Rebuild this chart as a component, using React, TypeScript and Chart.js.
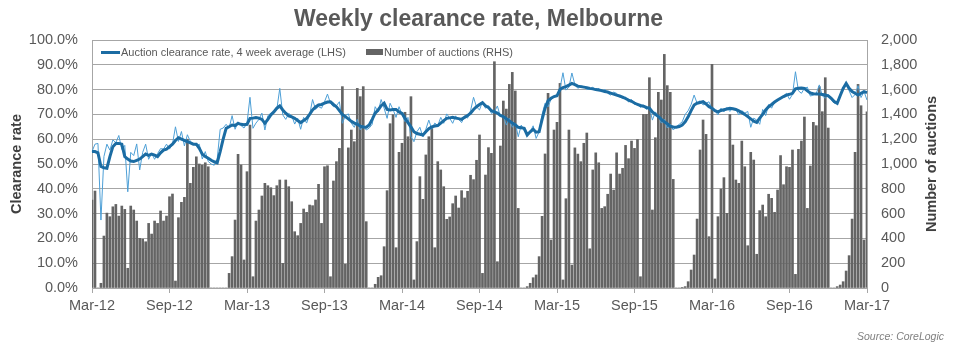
import React, { useEffect, useRef } from 'react';
import { Chart, registerables } from 'chart.js';

Chart.register(...registerables);

// Tick labels shown every 26 weeks on the category axis
const TICK_LABELS = ['Mar-12', 'Sep-12', 'Mar-13', 'Sep-13', 'Mar-14', 'Sep-14', 'Mar-15', 'Sep-15', 'Mar-16', 'Sep-16', 'Mar-17'];
const LEFT_TICKS_MAX = 100;
const RIGHT_TICKS_MAX = 2000;

// Number of auctions (RHS), weekly
const AUCTIONS = [
  709, 782, 0, 38, 419, 604, 575, 655, 674, 580, 661, 634, 159, 661, 629, 540, 400, 394, 373, 521,
  435, 540, 521, 621, 540, 580, 736, 758, 56, 567, 691, 731, 1200, 844, 973, 1058, 1000, 991, 1010, 978,
  0, 0, 0, 0, 0, 0, 118, 253, 548, 1078, 992, 226, 938, 1314, 91, 540, 629, 742, 844, 825,
  809, 745, 825, 871, 199, 871, 817, 696, 454, 422, 521, 637, 610, 669, 664, 710, 836, 521, 978, 986,
  91, 863, 1019, 1126, 1624, 191, 1130, 1274, 1180, 1610, 1543, 1624, 535, 0, 0, 30, 86, 99, 333, 785,
  1325, 1398, 325, 1094, 1167, 1417, 1220, 1543, 65, 374, 898, 715, 1073, 1220, 1288, 325, 1019, 952, 817, 554,
  573, 680, 742, 645, 785, 726, 780, 909, 874, 1030, 1234, 118, 911, 1132, 1086, 1825, 212, 1145, 1508, 1443,
  1642, 1739, 1589, 642, 0, 0, 11, 38, 83, 105, 253, 578, 1081, 1570, 387, 1274, 1336, 1650, 65, 720,
  1274, 185, 1130, 1080, 1019, 1167, 1250, 316, 952, 1090, 1010, 642, 656, 756, 919, 790, 1090, 919, 965, 1150,
  1043, 1185, 1126, 1198, 91, 1400, 1400, 1696, 629, 1212, 1578, 1516, 1884, 1632, 1578, 876, 0, 0, 5, 11,
  51, 145, 266, 556, 1113, 1355, 1239, 414, 1804, 73, 575, 798, 890, 602, 1400, 1153, 871, 844, 1185, 978,
  341, 1094, 1032, 272, 624, 669, 575, 756, 723, 610, 790, 1068, 833, 978, 973, 1113, 110, 1118, 1185, 1379,
  642, 984, 1336, 1309, 1624, 1422, 1696, 1290, 0, 0, 11, 24, 51, 137, 261, 556, 1094, 1642, 1470, 387,
  1421,
];

// Weekly clearance rate (%), thin line
const WEEKLY_RATE = [
  55.0, 58.0, 58.3, 27.4, 53.0, 58.0, 55.6, 59.7, 58.6, 61.5, 55.9, 57.5, 38.8, 54.7, 53.4, 58.1, 47.6, 54.7, 58.0, 51.9,
  54.3, 51.9, 54.2, 56.2, 56.0, 58.0, 56.0, 58.0, 65.0, 59.1, 63.1, 57.3, 61.8, 59.1, 58.2, 57.4, 58.0, 52.0, 55.0, 51.0,
  50.0, 49.5, 52.0, 64.0, 64.5, 66.0, 64.5, 69.5, 64.0, 67.0, 65.5, 64.5, 66.5, 76.9, 64.4, 66.5, 68.0, 70.5, 63.7, 69.5,
  70.5, 71.0, 72.0, 80.5, 69.8, 68.0, 70.4, 69.5, 66.1, 68.5, 64.0, 68.8, 66.5, 69.8, 76.0, 72.0, 73.1, 72.5, 75.1, 78.2,
  74.5, 73.1, 73.5, 75.1, 66.4, 69.5, 70.2, 66.5, 64.8, 68.0, 63.7, 65.5, 63.7, 64.5, 66.0, 73.1, 71.0, 76.0, 72.5, 68.4,
  74.5, 72.0, 68.8, 73.1, 70.0, 67.1, 68.8, 61.0, 59.0, 63.0, 64.8, 61.0, 64.0, 67.7, 64.0, 66.5, 65.5, 68.8, 66.4, 70.2,
  68.5, 66.4, 69.4, 68.0, 66.7, 69.4, 68.5, 71.5, 76.9, 73.0, 71.8, 75.1, 72.5, 73.5, 70.4, 71.0, 73.4, 69.1, 69.5, 65.7,
  68.4, 64.8, 66.5, 61.0, 65.7, 63.5, 61.7, 63.0, 65.4, 60.3, 63.0, 70.0, 74.5, 73.0, 76.1, 77.4, 77.6, 80.5, 86.8, 79.8,
  81.0, 86.7, 82.0, 80.5, 81.5, 81.2, 80.0, 80.2, 81.0, 79.8, 80.5, 79.0, 80.2, 78.5, 77.8, 79.0, 78.5, 77.0, 76.5, 77.0,
  75.0, 76.0, 74.0, 74.5, 72.8, 73.8, 72.0, 73.0, 67.7, 71.0, 69.5, 66.5, 68.0, 64.5, 66.0, 63.7, 65.0, 66.0, 67.0, 70.0,
  71.5, 74.0, 77.8, 74.5, 75.5, 73.8, 74.5, 75.1, 72.0, 71.5, 69.8, 72.5, 71.0, 72.8, 71.2, 72.5, 72.0, 69.8, 71.5, 70.5,
  71.2, 64.8, 68.5, 67.7, 66.0, 72.0, 69.5, 74.0, 72.5, 75.1, 75.5, 76.8, 77.5, 78.5, 76.1, 78.0, 87.2, 79.5, 78.5, 80.5,
  81.0, 77.4, 77.8, 78.5, 81.9, 77.5, 76.5, 78.0, 76.0, 74.5, 75.0, 78.0, 81.0, 82.5, 79.5, 76.8, 78.0, 81.6, 76.8, 79.2,
  75.8,
];

// Auction clearance rate, 4 week average (%), thick line
const AVG_RATE = [
  55.0, 55.0, 54.5, 49.0, 48.5, 48.3, 53.0, 57.0, 58.3, 58.3, 58.0, 53.0, 52.0, 51.2, 51.0, 51.5, 52.0, 53.0, 54.0, 53.5,
  54.0, 53.6, 53.0, 54.5, 55.6, 56.0, 57.0, 58.0, 59.5, 60.6, 60.0, 59.5, 59.0, 58.5, 58.0, 58.0, 56.3, 54.0, 53.0, 52.3,
  51.5, 50.9, 50.5, 55.0, 60.0, 64.4, 65.0, 65.7, 65.5, 66.4, 66.0, 65.8, 66.0, 68.4, 68.5, 68.7, 68.5, 68.0, 66.4, 68.0,
  69.8, 71.0, 72.5, 73.4, 71.8, 70.5, 69.4, 69.0, 68.4, 67.5, 66.7, 67.5, 68.4, 70.0, 71.8, 73.0, 73.8, 74.0, 74.5, 75.0,
  75.1, 74.0, 73.1, 71.5, 70.0, 69.1, 68.2, 67.2, 66.5, 66.0, 65.3, 64.9, 64.8, 65.7, 68.0, 70.5, 71.8, 73.5, 74.5, 72.0,
  71.8, 72.0, 72.0, 71.0, 70.4, 68.5, 66.7, 65.0, 63.0, 62.3, 62.0, 61.7, 63.0, 64.2, 65.0, 65.3, 65.5, 66.5, 67.5, 68.4,
  68.6, 68.8, 68.5, 68.3, 68.0, 68.8, 69.5, 70.5, 72.0, 73.1, 74.0, 74.7, 73.5, 72.8, 71.5, 71.0, 70.5, 69.6, 69.1, 68.3,
  67.3, 66.5, 65.8, 64.8, 64.6, 64.4, 61.7, 63.0, 64.0, 62.8, 63.0, 68.0, 72.5, 75.5, 76.5, 77.2, 77.5, 80.0, 80.8, 81.2,
  81.8, 82.5, 82.0, 81.4, 81.2, 81.0, 80.8, 80.5, 80.3, 80.0, 79.8, 79.6, 79.2, 79.0, 78.6, 78.2, 77.8, 77.4, 77.0, 76.4,
  75.8, 75.3, 74.6, 74.0, 73.6, 73.3, 72.8, 72.5, 71.0, 70.0, 69.2, 68.0, 67.0, 66.2, 65.2, 64.9, 64.8, 65.1, 65.7, 67.0,
  69.0, 71.5, 73.8, 74.5, 74.8, 75.1, 74.2, 73.1, 72.5, 71.5, 71.0, 71.6, 71.9, 72.2, 72.5, 72.3, 72.0, 71.4, 70.7, 70.0,
  69.1, 68.2, 67.3, 66.8, 68.5, 70.0, 71.8, 73.1, 74.0, 75.0, 75.8, 76.5, 77.2, 77.8, 78.1, 78.5, 80.3, 80.5, 80.6, 80.5,
  79.5, 78.6, 78.3, 78.2, 78.2, 78.0, 77.8, 77.5, 76.5, 75.2, 74.5, 77.5, 80.5, 82.5, 80.5, 79.2, 78.5, 77.8, 78.5, 79.2,
  78.8,
];

// Weekly categories (week starting dates), one per data point
const FIRST_WEEK = new Date(Date.UTC(2012, 2, 4));
const WEEKS = AUCTIONS.map((_, i) => {
  const d = new Date(FIRST_WEEK.getTime() + i * 7 * 86400000);
  return d.toISOString().slice(0, 10);
});
const LABEL_EVERY = 26;

const FONT = '"Liberation Sans", Arial, Helvetica, sans-serif';
const GRID = '#a6a6a6';
const TICK_COLOR = '#595959';
const TITLE_COLOR = '#404040';
const AVG_COLOR = '#1b6ca3';
const WEEKLY_COLOR = '#4d9fd6';
const BAR_COLOR = '#646464';

export default function App() {
  const ref = useRef<HTMLCanvasElement>(null);

  useEffect(() => {
    if (!ref.current) return;
    Chart.defaults.font.family = FONT;
    const chart = new Chart(ref.current, {
      type: 'bar',
      data: {
        labels: WEEKS,
        datasets: [
          {
            type: 'line',
            label: 'Auction clearance rate, 4 week average (LHS)',
            data: AVG_RATE,
            yAxisID: 'y',
            borderColor: AVG_COLOR,
            borderWidth: 3,
            pointRadius: 0,
            tension: 0,
            order: 1,
          } as any,
          {
            type: 'line',
            label: 'Weekly clearance rate',
            data: WEEKLY_RATE,
            yAxisID: 'y',
            borderColor: WEEKLY_COLOR,
            borderWidth: 1,
            pointRadius: 0,
            tension: 0,
            order: 2,
          } as any,
          {
            type: 'bar',
            label: 'Number of auctions (RHS)',
            data: AUCTIONS,
            yAxisID: 'y1',
            backgroundColor: BAR_COLOR,
            barThickness: 2,
            order: 3,
          } as any,
        ],
      },
      options: {
        responsive: false,
        animation: false,
        events: [],
        layout: { padding: { top: 40, left: 0, right: 0, bottom: 0 } },
        plugins: {
          legend: { display: false },
          tooltip: { enabled: false },
          title: { display: false },
        },
        scales: {
          x: {
            type: 'category',
            offset: false,
            grid: {
              display: true,
              drawOnChartArea: false,
              drawTicks: true,
              tickLength: 5,
              offset: false,
              color: (ctx: any) => (ctx.index % LABEL_EVERY === 0 ? GRID : 'rgba(0,0,0,0)'),
            },
            border: { display: true, color: GRID },
            ticks: {
              autoSkip: false,
              maxRotation: 0,
              minRotation: 0,
              padding: 4,
              color: TICK_COLOR,
              font: { size: 14.5 },
              callback: (_v: any, i: number) => (i % LABEL_EVERY === 0 ? TICK_LABELS[i / LABEL_EVERY] : ''),
            },
            afterFit: (s: any) => {
              s.height = 63;
            },
          },
          y: {
            position: 'left',
            min: 0,
            max: LEFT_TICKS_MAX,
            grid: { color: GRID, drawTicks: false },
            border: { display: true, color: GRID },
            ticks: {
              stepSize: 10,
              padding: 14,
              color: TICK_COLOR,
              font: { size: 14.5 },
              callback: (v: any) => Number(v).toFixed(1) + '%',
            },
            title: {
              display: true,
              text: 'Clearance rate',
              color: TITLE_COLOR,
              font: { size: 14.5, weight: 'bold' },
              padding: { top: 8, bottom: 0 },
            },
            afterFit: (s: any) => {
              s.width = 92;
            },
          },
          y1: {
            position: 'right',
            min: 0,
            max: RIGHT_TICKS_MAX,
            grid: { drawOnChartArea: false, drawTicks: false },
            border: { display: true, color: GRID },
            ticks: {
              stepSize: 200,
              padding: 14,
              color: TICK_COLOR,
              font: { size: 14.5 },
              callback: (v: any) => Number(v).toLocaleString('en-US'),
            },
            title: { display: false },
            afterFit: (s: any) => {
              s.width = 90;
            },
          },
        },
      } as any,
    });
    return () => chart.destroy();
  }, []);

  return (
    <div
      style={{
        position: 'absolute',
        left: 0,
        top: 0,
        width: 957,
        height: 351,
        background: '#ffffff',
        fontFamily: FONT,
        overflow: 'hidden',
      }}
    >
      <canvas
        ref={ref}
        width={957}
        height={351}
        style={{ position: 'absolute', left: 0, top: 0, width: 957, height: 351 }}
      />
      <div
        style={{
          position: 'absolute',
          left: 0,
          top: 4,
          width: 957,
          textAlign: 'center',
          fontSize: 23,
          lineHeight: '28px',
          fontWeight: 'bold',
          color: '#595959',
        }}
      >
        Weekly clearance rate, Melbourne
      </div>
      <div
        style={{
          position: 'absolute',
          left: 831,
          top: 155,
          width: 200,
          height: 18,
          lineHeight: '18px',
          textAlign: 'center',
          fontSize: 14.5,
          fontWeight: 'bold',
          color: TITLE_COLOR,
          whiteSpace: 'nowrap',
          transform: 'rotate(-90deg)',
          transformOrigin: '100px 9px',
        }}
      >
        Number of auctions
      </div>
      <div style={{ position: 'absolute', left: 101, top: 51, width: 19, height: 3, background: AVG_COLOR }} />
      <div
        style={{
          position: 'absolute',
          left: 121,
          top: 45,
          fontSize: 11,
          lineHeight: '14px',
          color: TICK_COLOR,
          whiteSpace: 'nowrap',
        }}
      >
        Auction clearance rate, 4 week average (LHS)
      </div>
      <div style={{ position: 'absolute', left: 366, top: 49, width: 17, height: 6, background: BAR_COLOR }} />
      <div
        style={{
          position: 'absolute',
          left: 384,
          top: 45,
          fontSize: 11,
          lineHeight: '14px',
          color: TICK_COLOR,
          whiteSpace: 'nowrap',
        }}
      >
        Number of auctions (RHS)
      </div>
      <div
        style={{
          position: 'absolute',
          right: 13,
          top: 329,
          fontSize: 10.5,
          lineHeight: '14px',
          fontStyle: 'italic',
          color: '#808080',
          whiteSpace: 'nowrap',
        }}
      >
        Source: CoreLogic
      </div>
    </div>
  );
}
